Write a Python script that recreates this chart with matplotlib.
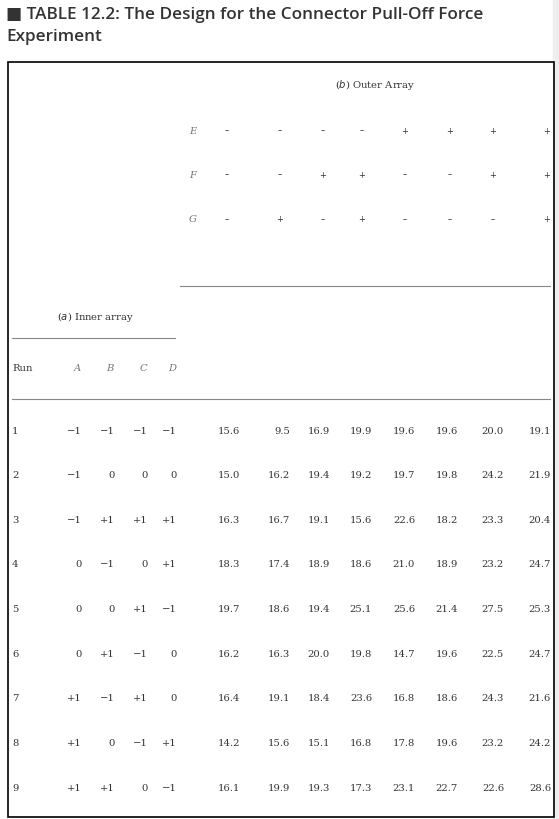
import matplotlib
matplotlib.use("Agg")
import matplotlib.pyplot as plt
from matplotlib.patches import Rectangle

title_lines = ["\u25a0 TABLE 12.2: The Design for the Connector Pull-Off Force", "Experiment"]
outer_factors = ["E", "F", "G"]
outer_levels = [["\u2013"]*4 + ["+"]*4,
                ["\u2013","\u2013","+","+","\u2013","\u2013","+","+"],
                ["\u2013","+","\u2013","+","\u2013","\u2013","\u2013","+"]]
inner_factors = ["A", "B", "C", "D"]
runs = [1,2,3,4,5,6,7,8,9]
A = ["\u22121","\u22121","\u22121","0","0","0","+1","+1","+1"]
B = ["\u22121","0","+1","\u22121","0","+1","\u22121","0","+1"]
C = ["\u22121","0","+1","0","+1","\u22121","+1","\u22121","0"]
D = ["\u22121","0","+1","+1","\u22121","0","0","+1","\u22121"]
values = [
    [15.6, 9.5, 16.9, 19.9, 19.6, 19.6, 20.0, 19.1],
    [15.0, 16.2, 19.4, 19.2, 19.7, 19.8, 24.2, 21.9],
    [16.3, 16.7, 19.1, 15.6, 22.6, 18.2, 23.3, 20.4],
    [18.3, 17.4, 18.9, 18.6, 21.0, 18.9, 23.2, 24.7],
    [19.7, 18.6, 19.4, 25.1, 25.6, 21.4, 27.5, 25.3],
    [16.2, 16.3, 20.0, 19.8, 14.7, 19.6, 22.5, 24.7],
    [16.4, 19.1, 18.4, 23.6, 16.8, 18.6, 24.3, 21.6],
    [14.2, 15.6, 15.1, 16.8, 17.8, 19.6, 23.2, 24.2],
    [16.1, 19.9, 19.3, 17.3, 23.1, 22.7, 22.6, 28.6],
]

W, H = 559, 820
fig = plt.figure(figsize=(W/100, H/100), dpi=100)
ax = fig.add_axes([0, 0, 1, 1])
ax.set_xlim(0, W); ax.set_ylim(H, 0); ax.axis("off")

tc = "#333333"
serif = "DejaVu Serif"
fs = 7.2
tfam = ["Open Sans", "DejaVu Sans"]
ax.add_patch(Rectangle((553, 0), 6, H, color="#eeeeee", zorder=0))
ax.text(6, 15, title_lines[0], fontsize=12.3, fontweight="semibold", family=tfam, color="#333333", va="center")
ax.text(6, 37, title_lines[1], fontsize=12.3, fontweight="semibold", family=tfam, color="#333333", va="center")
ax.add_patch(Rectangle((8, 63), 546, 755, fill=False, lw=1.2, ec="black"))

ax.text(375, 85, "($b$) Outer Array", fontsize=fs, family=serif, color=tc, ha="center", va="center")
sign_x = [227, 280, 323, 362, 405, 450, 493, 547]
for fy, f, lv in zip([131, 175, 220], outer_factors, outer_levels):
    ax.text(193, fy, f, fontsize=fs, family=serif, style="italic", color="#777777", ha="center", va="center")
    for x, s in zip(sign_x, lv):
        ax.text(x, fy, s, fontsize=6, color=tc, ha="center", va="center")

ax.plot([180, 550], [287, 287], color="#888888", lw=0.8)
ax.text(95, 317, "($a$) Inner array", fontsize=fs, family=serif, color=tc, ha="center", va="center")
ax.plot([12, 175], [339, 339], color="#888888", lw=0.8)
ax.text(12, 369, "Run", fontsize=fs, family=serif, color=tc, va="center")
for x, f in zip([77, 110, 143, 172], inner_factors):
    ax.text(x, 369, f, fontsize=fs, family=serif, style="italic", color="#777777", ha="center", va="center")
ax.plot([12, 550], [400, 400], color="#888888", lw=0.8)

row_y = [432, 476, 521, 565, 610, 655, 699, 744, 789]
inner_right = [82, 115, 148, 177]
val_right = [240, 290, 330, 372, 415, 458, 504, 551]
for i, y in enumerate(row_y):
    ax.text(12, y, str(runs[i]), fontsize=fs, family=serif, color=tc, va="center")
    for xr, col in zip(inner_right, [A, B, C, D]):
        ax.text(xr, y, col[i], fontsize=fs, family=serif, color=tc, ha="right", va="center")
    for xr, v in zip(val_right, values[i]):
        ax.text(xr, y, f"{v:.1f}", fontsize=fs, family=serif, color=tc, ha="right", va="center")

fig.savefig("out.png", dpi=100)
